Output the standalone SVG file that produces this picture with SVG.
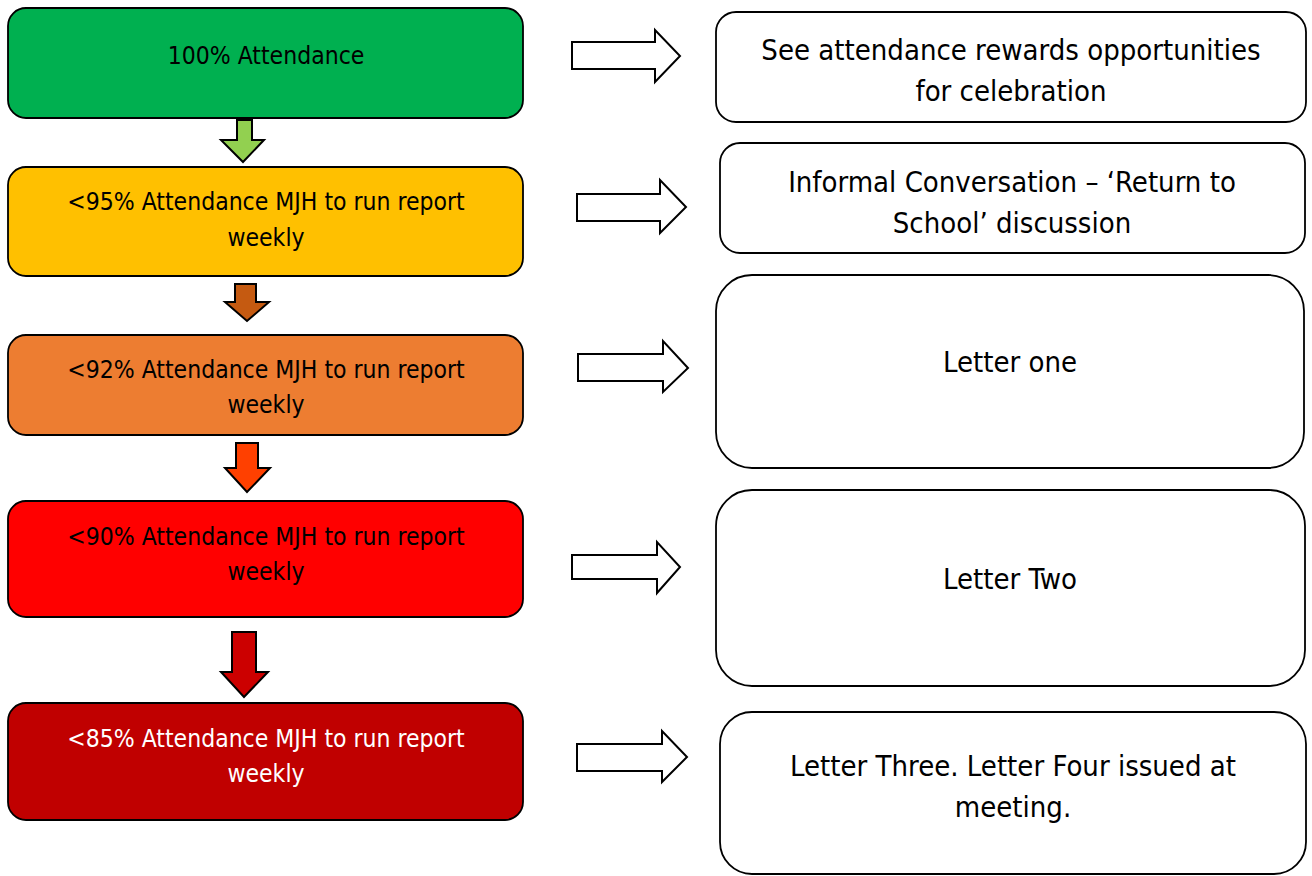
<svg xmlns="http://www.w3.org/2000/svg" width="1312" height="876" viewBox="0 0 1312 876">
<style>
.lb{stroke:#000;stroke-width:1.8}
.rb{fill:#fff;stroke:#000;stroke-width:1.8}
.da{stroke:#000;stroke-width:2;stroke-linejoin:miter}
.ra{fill:#fff;stroke:#000;stroke-width:2;stroke-linejoin:miter}
.lt{font-family:"DejaVu Sans Condensed","DejaVu Sans",sans-serif;font-size:24.5px;text-anchor:middle;fill:#000}
.rt{font-family:"DejaVu Sans Condensed","DejaVu Sans",sans-serif;font-size:29px;text-anchor:middle;fill:#000}
.w{fill:#fff}
</style>
<rect width="1312" height="876" fill="#fff"/>
<g id="n100">
<rect class="lb" x="8" y="8" width="515" height="110" rx="18" fill="#00B050"/>
<text class="lt" x="266" y="64">100% Attendance</text>
</g>
<g id="n95">
<rect class="lb" x="8" y="167" width="515" height="109" rx="18" fill="#FFC000"/>
<text class="lt" x="266" y="210">&lt;95% Attendance MJH to run report</text>
<text class="lt" x="266" y="246">weekly</text>
</g>
<g id="n92">
<rect class="lb" x="8" y="335" width="515" height="100" rx="18" fill="#ED7D31"/>
<text class="lt" x="266" y="378">&lt;92% Attendance MJH to run report</text>
<text class="lt" x="266" y="413">weekly</text>
</g>
<g id="n90">
<rect class="lb" x="8" y="501" width="515" height="116" rx="18" fill="#FF0000"/>
<text class="lt" x="266" y="545">&lt;90% Attendance MJH to run report</text>
<text class="lt" x="266" y="580">weekly</text>
</g>
<g id="n85">
<rect class="lb" x="8" y="703" width="515" height="117" rx="18" fill="#C00000"/>
<text class="lt w" x="266" y="747">&lt;85% Attendance MJH to run report</text>
<text class="lt w" x="266" y="782">weekly</text>
</g>
<g id="r1">
<rect class="rb" x="716" y="12" width="590" height="110" rx="20"/>
<text class="rt" x="1011" y="60">See attendance rewards opportunities</text>
<text class="rt" x="1011" y="101">for celebration</text>
</g>
<g id="r2">
<rect class="rb" x="720" y="143" width="585" height="110" rx="20"/>
<text class="rt" x="1012" y="192">Informal Conversation – ‘Return to</text>
<text class="rt" x="1012" y="233">School’ discussion</text>
</g>
<g id="r3">
<rect class="rb" x="716" y="275" width="588" height="193" rx="36"/>
<text class="rt" x="1010" y="372">Letter one</text>
</g>
<g id="r4">
<rect class="rb" x="716" y="490" width="589" height="196" rx="36"/>
<text class="rt" x="1010" y="589">Letter Two</text>
</g>
<g id="r5">
<rect class="rb" x="720" y="712" width="586" height="162" rx="32"/>
<text class="rt" x="1013" y="776">Letter Three. Letter Four issued at</text>
<text class="rt" x="1013" y="817">meeting.</text>
</g>
<g id="connectors">
<polygon class="da" fill="#92D050" points="237,120 252,120 252,140 264,140 243,162 221,140 237,140"/>
<polygon class="da" fill="#C55A11" points="235,284 256,284 256,302 269,302 247,321 225,302 235,302"/>
<polygon class="da" fill="#FF4000" points="236,443 258,443 258,468 270,468 247,492 225,468 236,468"/>
<polygon class="da" fill="#CC0000" points="232,632 256,632 256,672 268,672 244,697 221,672 232,672"/>
<polygon class="ra" points="572,42 655,42 655,30 680,56 655,82 655,69 572,69"/>
<polygon class="ra" points="577,194 660,194 660,180 686,207 660,233 660,221 577,221"/>
<polygon class="ra" points="578,354 663,354 663,341 688,368 663,392 663,381 578,381"/>
<polygon class="ra" points="572,555 657,555 657,542 680,567 657,593 657,579 572,579"/>
<polygon class="ra" points="577,744 662,744 662,731 687,757 662,782 662,771 577,771"/>
</g>
</svg>
